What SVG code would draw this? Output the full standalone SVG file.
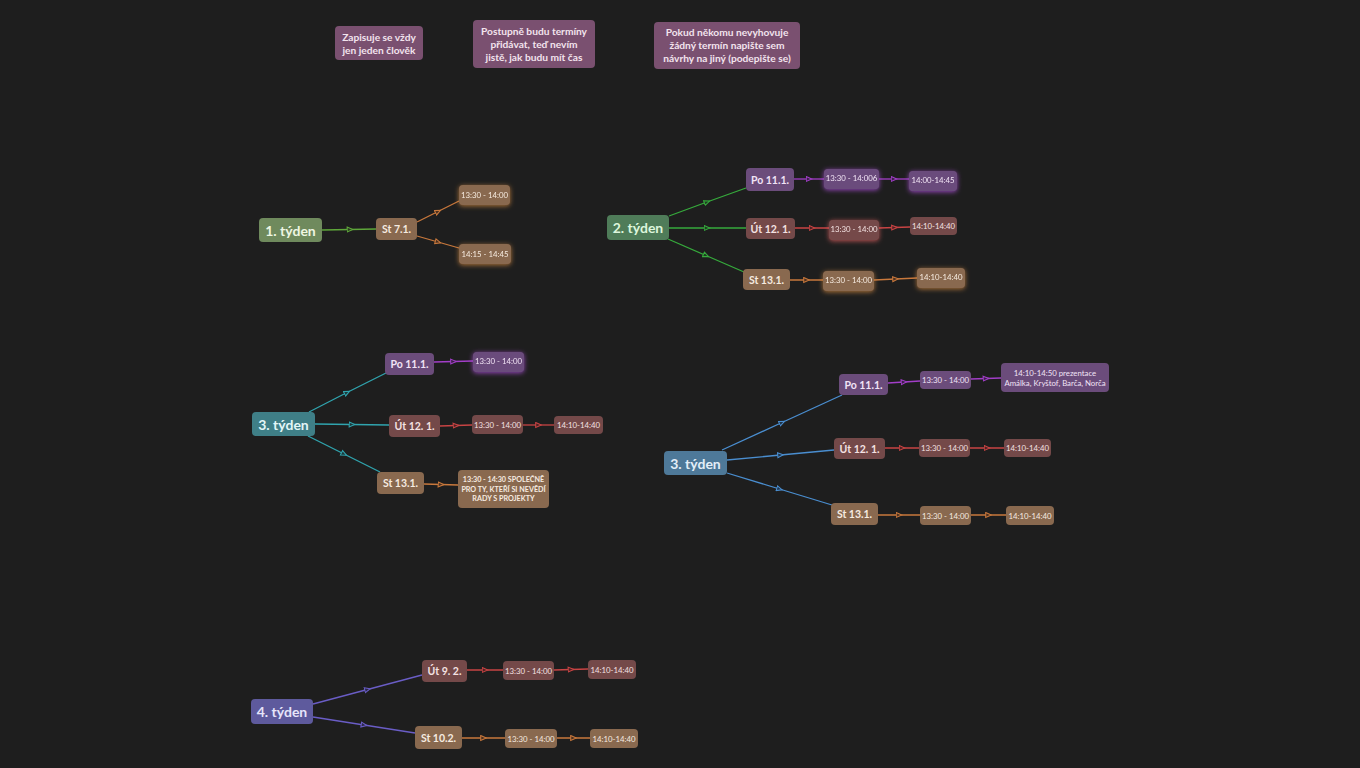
<svg xmlns="http://www.w3.org/2000/svg" width="1360" height="768" viewBox="0 0 1360 768">
<style>
text{font-family:Lato,"Source Sans Pro","Noto Sans","Liberation Sans",sans-serif;font-weight:bold;text-anchor:middle;dominant-baseline:central}
.note rect{fill:#7a5070}
.note text{fill:#f3e4ee;font-size:10.2px}
.wk text{font-size:14px}
.day text{font-size:10.5px}
.tm text{font-size:7.8px;font-weight:normal}
.g1 rect{fill:#6f8a5d}.g1 text{fill:#eef6e2}
.g2 rect{fill:#4f7c59}.g2 text{fill:#ddf6dc}
.tl rect{fill:#3f7f87}.tl text{fill:#e2f6f7}
.bl rect{fill:#4e7999}.bl text{fill:#e3eef8}
.in rect{fill:#5e5a9d}.in text{fill:#e6e4fa}
.pu rect{fill:#6b4c7b}.pu text{fill:#f1e3f6}
.rb rect{fill:#744949}.rb text{fill:#f4e2e2}
.br rect{fill:#89694f}.br text{fill:#f6ebe0}
#edges polyline{fill:none;stroke-width:1.3}
.eg1{stroke:#5ea63a;marker-mid:url(#mg1)}
.eg2{stroke:#36aa3c;marker-mid:url(#mg2)}
.etl{stroke:#30a4ae;marker-mid:url(#mtl)}
.ebl{stroke:#4a8ed0;marker-mid:url(#mbl)}
.ein{stroke:#6a5dc6;marker-mid:url(#min)}
.epu{stroke:#a23ec8;marker-mid:url(#mpu)}
.erd{stroke:#c84444;marker-mid:url(#mrd)}
.eor{stroke:#c8783c;marker-mid:url(#mor)}
</style>
<defs>
<marker id="mg1" viewBox="0 0 10 10" refX="5" refY="5" markerWidth="7" markerHeight="7" markerUnits="userSpaceOnUse" orient="auto"><path d="M1,1.5 L9,5 L1,8.5 Z" fill="#2a3a22" stroke="#5ea63a" stroke-width="1.5"/></marker>
<marker id="mg2" viewBox="0 0 10 10" refX="5" refY="5" markerWidth="7" markerHeight="7" markerUnits="userSpaceOnUse" orient="auto"><path d="M1,1.5 L9,5 L1,8.5 Z" fill="#1f3a22" stroke="#36aa3c" stroke-width="1.5"/></marker>
<marker id="mtl" viewBox="0 0 10 10" refX="5" refY="5" markerWidth="7" markerHeight="7" markerUnits="userSpaceOnUse" orient="auto"><path d="M1,1.5 L9,5 L1,8.5 Z" fill="#1c383b" stroke="#30a4ae" stroke-width="1.5"/></marker>
<marker id="mbl" viewBox="0 0 10 10" refX="5" refY="5" markerWidth="7" markerHeight="7" markerUnits="userSpaceOnUse" orient="auto"><path d="M1,1.5 L9,5 L1,8.5 Z" fill="#203448" stroke="#4a8ed0" stroke-width="1.5"/></marker>
<marker id="min" viewBox="0 0 10 10" refX="5" refY="5" markerWidth="7" markerHeight="7" markerUnits="userSpaceOnUse" orient="auto"><path d="M1,1.5 L9,5 L1,8.5 Z" fill="#2a2846" stroke="#6a5dc6" stroke-width="1.5"/></marker>
<marker id="mpu" viewBox="0 0 10 10" refX="5" refY="5" markerWidth="7" markerHeight="7" markerUnits="userSpaceOnUse" orient="auto"><path d="M1,1.5 L9,5 L1,8.5 Z" fill="#3a2046" stroke="#a23ec8" stroke-width="1.5"/></marker>
<marker id="mrd" viewBox="0 0 10 10" refX="5" refY="5" markerWidth="7" markerHeight="7" markerUnits="userSpaceOnUse" orient="auto"><path d="M1,1.5 L9,5 L1,8.5 Z" fill="#4a2222" stroke="#c84444" stroke-width="1.5"/></marker>
<marker id="mor" viewBox="0 0 10 10" refX="5" refY="5" markerWidth="7" markerHeight="7" markerUnits="userSpaceOnUse" orient="auto"><path d="M1,1.5 L9,5 L1,8.5 Z" fill="#4a3020" stroke="#c8783c" stroke-width="1.5"/></marker>
<filter id="glo" x="-30%" y="-50%" width="160%" height="200%"><feDropShadow dx="0" dy="1" stdDeviation="2.5" flood-color="#d08840" flood-opacity="0.8"/></filter>
<filter id="glp" x="-30%" y="-50%" width="160%" height="200%"><feDropShadow dx="0" dy="1" stdDeviation="2.5" flood-color="#b050e0" flood-opacity="0.8"/></filter>
<filter id="glr" x="-30%" y="-50%" width="160%" height="200%"><feDropShadow dx="0" dy="1" stdDeviation="2.5" flood-color="#e06060" flood-opacity="0.8"/></filter>
</defs>
<rect width="1360" height="768" fill="#1e1e1e"/>

<g id="connectors">
<g id="edges">
<polyline class="eg1" points="322,230 350,229.5 376,229"/>
<polyline class="eor" points="417,222 438,211.5 459,201"/>
<polyline class="eor" points="417,236 438,242 459,248"/>

<polyline class="eg2" points="669,216 707,202 746,188"/>
<polyline class="eg2" points="669,228 707,228 746,228"/>
<polyline class="eg2" points="668,239 706,255.5 744,272"/>
<polyline class="epu" points="794,179 809,179 824,179"/>
<polyline class="epu" points="879,179 894,179 909,179"/>
<polyline class="erd" points="795,228 812,228 829,228"/>
<polyline class="erd" points="879,228 894.5,227.5 910,227"/>
<polyline class="eor" points="790,280 806.5,280 823,280"/>
<polyline class="eor" points="874,280 895.5,279 917,278"/>

<polyline class="etl" points="309,412 347,392.5 386,373"/>
<polyline class="etl" points="315,424 352,424.5 389,425"/>
<polyline class="etl" points="308,436 344,454 380,472"/>
<polyline class="epu" points="434,362 453.5,361.5 473,361"/>
<polyline class="erd" points="440,426 456,425.5 472,425"/>
<polyline class="erd" points="523,425 538.5,425 554,425"/>
<polyline class="eor" points="424,484 441,484.5 458,485"/>

<polyline class="ebl" points="722,450 782,422.5 842,395"/>
<polyline class="ebl" points="727,460 780.5,455 834,450"/>
<polyline class="ebl" points="727,473 779.5,489 832,505"/>
<polyline class="epu" points="888,383 904,382 920,381"/>
<polyline class="epu" points="971,379 986,378.5 1001,378"/>
<polyline class="erd" points="885,448 902,448 919,448"/>
<polyline class="erd" points="970,448 987,448 1004,448"/>
<polyline class="eor" points="878,515 899,515 920,515"/>
<polyline class="eor" points="971,515 988.5,515 1006,515"/>

<polyline class="ein" points="313,704 367.5,689.5 422,675"/>
<polyline class="ein" points="313,717 364,725 415,733"/>
<polyline class="erd" points="467,670 485,670 503,670"/>
<polyline class="erd" points="554,670 571,669.5 588,669"/>
<polyline class="eor" points="462,738 483.5,738 505,738"/>
<polyline class="eor" points="557,738 573.5,738 590,738"/>
</g>
</g>

<g id="note1" class="note"><rect x="335" y="26" width="88" height="34" rx="4"/><text x="379" y="37">Zapisuje se vždy</text><text x="379" y="50">jen jeden člověk</text></g>
<g id="note2" class="note"><rect x="473" y="20" width="122" height="48" rx="4"/><text x="534" y="31">Postupně budu termíny</text><text x="534" y="44">přidávat, teď nevím</text><text x="534" y="57">jistě, jak budu mít čas</text></g>
<g id="note3" class="note"><rect x="654" y="22" width="146" height="47" rx="4"/><text x="727" y="32">Pokud někomu nevyhovuje</text><text x="727" y="45">žádný termín napište sem</text><text x="727" y="58">návrhy na jiný (podepište se)</text></g>

<g id="w1" class="wk g1"><rect x="259" y="218" width="63" height="24" rx="4"/><text x="290.5" y="230">1. týden</text></g>
<g id="w1st" class="day br"><rect x="376" y="218" width="41" height="22" rx="4"/><text x="396.5" y="229">St 7.1.</text></g>
<g id="w1t1" class="tm br" filter="url(#glo)"><rect x="459" y="185" width="51" height="20" rx="4"/><text x="484.5" y="195">13:30 - 14:00</text></g>
<g id="w1t2" class="tm br" filter="url(#glo)"><rect x="459" y="244" width="52" height="20" rx="4"/><text x="485" y="254">14:15 - 14:45</text></g>

<g id="w2" class="wk g2"><rect x="607" y="215" width="62" height="25" rx="4"/><text x="638" y="227.5">2. týden</text></g>
<g id="w2po" class="day pu"><rect x="746" y="168" width="48" height="23" rx="4"/><text x="770" y="179.5">Po 11.1.</text></g>
<g id="w2po1" class="tm pu" filter="url(#glp)"><rect x="824" y="169" width="55" height="20" rx="4"/><text x="851.5" y="178">13:30 - 14:006</text></g>
<g id="w2po2" class="tm pu" filter="url(#glp)"><rect x="909" y="171" width="48" height="20" rx="4"/><text x="933" y="180">14:00-14:45</text></g>
<g id="w2ut" class="day rb"><rect x="746" y="218" width="49" height="21" rx="4"/><text x="770.5" y="228.5">Út 12. 1.</text></g>
<g id="w2ut1" class="tm rb" filter="url(#glr)"><rect x="829" y="220" width="50" height="20" rx="4"/><text x="854" y="228.5">13:30 - 14:00</text></g>
<g id="w2ut2" class="tm rb"><rect x="910" y="217" width="47" height="18" rx="4"/><text x="933.5" y="226">14:10-14:40</text></g>
<g id="w2st" class="day br"><rect x="743" y="269" width="47" height="21" rx="4"/><text x="766.5" y="279.5">St 13.1.</text></g>
<g id="w2st1" class="tm br" filter="url(#glo)"><rect x="823" y="271" width="51" height="20" rx="4"/><text x="848.5" y="280">13:30 - 14:00</text></g>
<g id="w2st2" class="tm br" filter="url(#glo)"><rect x="917" y="268" width="48" height="20" rx="4"/><text x="941" y="277">14:10-14:40</text></g>

<g id="w3a" class="wk tl"><rect x="252" y="412" width="63" height="24" rx="4"/><text x="283.5" y="424">3. týden</text></g>
<g id="w3apo" class="day pu"><rect x="385" y="353" width="49" height="22" rx="4"/><text x="409.5" y="364">Po 11.1.</text></g>
<g id="w3apo1" class="tm pu" filter="url(#glp)"><rect x="473" y="352" width="51" height="20" rx="4"/><text x="498.5" y="360.5">13:30 - 14:00</text></g>
<g id="w3aut" class="day rb"><rect x="389" y="415" width="51" height="22" rx="4"/><text x="414.5" y="426">Út 12. 1.</text></g>
<g id="w3aut1" class="tm rb"><rect x="472" y="415" width="51" height="19" rx="4"/><text x="497.5" y="424.5">13:30 - 14:00</text></g>
<g id="w3aut2" class="tm rb"><rect x="554" y="416" width="49" height="18" rx="4"/><text x="578.5" y="425">14:10-14:40</text></g>
<g id="w3ast" class="day br"><rect x="377" y="472" width="47" height="22" rx="4"/><text x="400.5" y="483">St 13.1.</text></g>
<g id="w3ast1" class="tm br"><rect x="458" y="470" width="91" height="38" rx="4"/><text x="503.5" y="479.5" style="font-size:7.2px;font-weight:bold">13:30 - 14:30 SPOLEČNĚ</text><text x="503.5" y="489" style="font-size:7.2px;font-weight:bold">PRO TY, KTEŘÍ SI NEVĚDÍ</text><text x="503.5" y="498.5" style="font-size:7.2px;font-weight:bold">RADY S PROJEKTY</text></g>

<g id="w3b" class="wk bl"><rect x="664" y="451" width="63" height="24" rx="4"/><text x="695.5" y="463">3. týden</text></g>
<g id="w3bpo" class="day pu"><rect x="839" y="374" width="49" height="21" rx="4"/><text x="863.5" y="384.5">Po 11.1.</text></g>
<g id="w3bpo1" class="tm pu"><rect x="920" y="371" width="51" height="18" rx="4"/><text x="945.5" y="380">13:30 - 14:00</text></g>
<g id="w3bpo2" class="tm pu"><rect x="1001" y="363" width="108" height="29" rx="4"/><text x="1055" y="373">14:10-14:50 prezentace</text><text x="1055" y="383">Amálka, Kryštof, Barča, Norča</text></g>
<g id="w3but" class="day rb"><rect x="834" y="438" width="51" height="21" rx="4"/><text x="859.5" y="448.5">Út 12. 1.</text></g>
<g id="w3but1" class="tm rb"><rect x="919" y="439" width="51" height="18" rx="4"/><text x="944.5" y="448">13:30 - 14:00</text></g>
<g id="w3but2" class="tm rb"><rect x="1004" y="439" width="47" height="18" rx="4"/><text x="1027.5" y="448">14:10-14:40</text></g>
<g id="w3bst" class="day br"><rect x="831" y="503" width="47" height="22" rx="4"/><text x="854.5" y="514">St 13.1.</text></g>
<g id="w3bst1" class="tm br"><rect x="920" y="506" width="51" height="19" rx="4"/><text x="945.5" y="515.5">13:30 - 14:00</text></g>
<g id="w3bst2" class="tm br"><rect x="1006" y="506" width="48" height="19" rx="4"/><text x="1030" y="515.5">14:10-14:40</text></g>

<g id="w4" class="wk in"><rect x="251" y="699" width="62" height="25" rx="4"/><text x="282" y="711.5">4. týden</text></g>
<g id="w4ut" class="day rb"><rect x="422" y="660" width="45" height="22" rx="4"/><text x="444.5" y="671">Út 9. 2.</text></g>
<g id="w4ut1" class="tm rb"><rect x="503" y="661" width="51" height="19" rx="4"/><text x="528.5" y="670.5">13:30 - 14:00</text></g>
<g id="w4ut2" class="tm rb"><rect x="588" y="660" width="48" height="19" rx="4"/><text x="612" y="669.5">14:10-14:40</text></g>
<g id="w4st" class="day br"><rect x="415" y="726" width="47" height="23" rx="4"/><text x="438.5" y="737.5">St 10.2.</text></g>
<g id="w4st1" class="tm br"><rect x="505" y="729" width="52" height="19" rx="4"/><text x="531" y="738.5">13:30 - 14:00</text></g>
<g id="w4st2" class="tm br"><rect x="590" y="729" width="48" height="19" rx="4"/><text x="614" y="738.5">14:10-14:40</text></g>
</svg>
